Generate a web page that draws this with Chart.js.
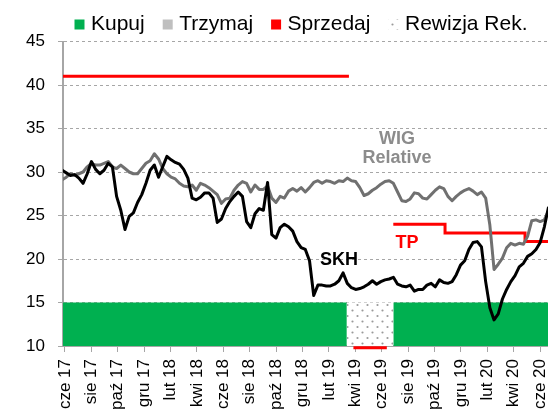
<!DOCTYPE html>
<html>
<head>
<meta charset="utf-8">
<script src="https://cdn.jsdelivr.net/npm/chart.js@4/dist/chart.umd.min.js"></script>
<style>
  html, body { margin: 0; padding: 0; background: #fff; }
  canvas { display: block; }
</style>
</head>
<body>
<canvas id="chart" width="548" height="410"></canvas>
<script>
// x is in months counted from June 2017, samples roughly every 10 days
const firstSample = -0.21;
const sampleStep = 0.3177;

const skh = [
    30.2, 29.9, 29.6, 29.7, 29.3, 28.7, 29.8, 31.2, 30.3, 29.8,
    30.2, 31.0, 30.6, 27.2, 25.6, 23.4, 24.9, 25.3, 26.5, 27.4,
    28.7, 30.2, 30.8, 29.4, 30.6, 31.8, 31.4, 31.1, 30.9, 30.3,
    29.3, 27.0, 26.8, 27.1, 27.6, 27.6, 27.0, 24.2, 24.6, 25.8,
    26.6, 27.2, 27.7, 27.2, 24.3, 23.6, 25.2, 25.8, 25.6, 28.8,
    22.8, 22.4, 23.6, 24.0, 23.7, 23.2, 22.0, 21.3, 21.1, 19.8,
    15.8, 17.0, 17.0, 16.9, 16.9, 17.1, 17.5, 18.4, 17.2, 16.7,
    16.5, 16.6, 16.8, 17.1, 17.5, 17.1, 17.4, 17.6, 17.7, 17.9,
    17.1, 16.9, 16.8, 17.0, 16.3, 16.5, 16.5, 17.0, 17.2, 16.8,
    17.6, 17.3, 17.2, 17.4, 18.2, 19.3, 19.8, 21.1, 21.9, 22.0,
    21.4, 17.4, 14.4, 13.0, 13.7, 15.4, 16.5, 17.4, 18.1, 19.1,
    19.5, 20.3, 20.6, 21.1, 21.9, 23.7, 26.0
];

const wigRelative = [
    29.1, 29.4, 29.8, 29.6, 29.8, 30.0, 30.6, 31.0, 30.8, 30.8,
    31.0, 31.2, 30.6, 30.4, 30.8, 30.4, 30.0, 29.8, 29.8, 30.4,
    31.0, 31.3, 32.1, 31.5, 30.4, 29.8, 29.4, 29.2, 28.7, 28.4,
    28.3, 28.5, 27.9, 28.7, 28.5, 28.2, 27.8, 27.4, 26.4, 26.9,
    27.0, 27.9, 28.5, 28.9, 28.7, 27.7, 28.5, 28.0, 28.0, 28.4,
    27.0, 26.5, 27.2, 27.0, 27.8, 28.1, 27.8, 28.2, 27.7, 28.2,
    28.8, 29.0, 28.7, 29.0, 28.9, 28.7, 29.0, 28.9, 29.3, 29.0,
    28.9, 28.2, 27.3, 27.5, 27.9, 28.2, 28.6, 28.9, 29.0, 28.7,
    27.7, 26.7, 26.6, 26.9, 27.6, 27.5, 27.0, 26.9, 27.4, 27.9,
    28.3, 28.1, 27.2, 26.7, 27.2, 27.6, 27.9, 28.1, 27.8, 27.4,
    27.7, 27.0, 23.9, 18.8, 19.4, 20.1, 21.3, 21.8, 21.6, 21.8,
    21.7, 22.6, 24.4, 24.5, 24.3, 24.5, 25.6
];

const tickLabels = ['cze 17', 'sie 17', 'paź 17', 'gru 17', 'lut 18', 'kwi 18', 'cze 18',
    'sie 18', 'paź 18', 'gru 18', 'lut 19', 'kwi 19', 'cze 19', 'sie 19', 'paź 19',
    'gru 19', 'lut 20', 'kwi 20', 'cze 20'];

// target price, null breaks the line between the two periods
const tpDates = [-0.14, 21.52, 21.6, 24.88, 28.8, 34.86, 36.6];
const tpValues = [41, 41, null, 24, 23, 22, 22];

// recommendation bands along the bottom
const ratingEdges = [-0.14, 21.36, 24.88, 36.6];
const ratingTypes = ['Kupuj', 'Rewizja Rek.', 'Kupuj'];
const ratingLevel = 15;
const sellDates = [21.86, 24.39];
const sellLevel = 9.8;

const notes = [
    { text: 'WIG', x: 25.17, y: 33.8, series: 'wig' },
    { text: 'Relative', x: 25.17, y: 31.55, series: 'wig' },
    { text: 'SKH', x: 20.77, y: 19.9, series: 'skh' },
    { text: 'TP', x: 25.92, y: 21.84, series: 'tp' }
];

const GREEN = '#00b050';
const GREY = '#bfbfbf';
const RED = '#ff0000';
const noteColors = { wig: '#8c8c8c', skh: '#000000', tp: RED };
const FONT = '"Liberation Sans", Arial, sans-serif';

const ctx = document.getElementById('chart').getContext('2d');

function dotPattern() {
    const c = document.createElement('canvas');
    c.width = 10;
    c.height = 11;
    const g = c.getContext('2d');
    g.fillStyle = '#fff';
    g.fillRect(0, 0, 10, 11);
    g.fillStyle = '#9a9a9a';
    g.beginPath();
    g.arc(2.5, 2.5, 1.1, 0, Math.PI * 2);
    g.moveTo(8.6, 8);
    g.arc(7.5, 8, 1.1, 0, Math.PI * 2);
    g.fill();
    return ctx.createPattern(c, 'repeat');
}
const dots = dotPattern();

const sampleX = skh.map((_, i) => firstSample + i * sampleStep);
const toPoints = (xs, ys) => xs.map((x, i) => ({ x: x, y: ys[i] }));

const bandSets = ratingTypes.map((t, i) => ({
    label: t,
    data: [{ x: ratingEdges[i], y: ratingLevel }, { x: ratingEdges[i + 1], y: ratingLevel }],
    fill: 'start',
    backgroundColor: t === 'Kupuj' ? GREEN : dots,
    borderWidth: 0,
    pointRadius: 0
}));

const legendItems = [
    { text: 'Kupuj', fillStyle: GREEN },
    { text: 'Trzymaj', fillStyle: GREY },
    { text: 'Sprzedaj', fillStyle: RED },
    { text: 'Rewizja Rek.', fillStyle: dots }
];

// keep the legend row short so the plot starts right under it,
// and nudge the row a bit to the right like the original
const legendHeight = {
    id: 'legendHeight',
    beforeInit(chart) {
        const fit = chart.legend.fit;
        chart.legend.fit = function () {
            fit.call(this);
            this.height = 39.5;
        };
    },
    afterLayout(chart) {
        const lg = chart.legend;
        lg.top -= 10;
        lg.left += 29;
        lg.right += 29;
    }
};

const notesPlugin = {
    id: 'notes',
    afterDatasetsDraw(chart) {
        const c = chart.ctx;
        const { x, y } = chart.scales;
        c.save();
        c.font = 'bold 18px ' + FONT;
        c.textAlign = 'center';
        c.textBaseline = 'middle';
        notes.forEach(n => {
            c.fillStyle = noteColors[n.series];
            c.fillText(n.text, x.getPixelForValue(n.x), y.getPixelForValue(n.y));
        });
        c.restore();
    }
};

new Chart(ctx, {
    type: 'line',
    data: {
        datasets: [
            {
                label: 'SKH',
                data: toPoints(sampleX, skh),
                borderColor: '#000',
                borderWidth: 3,
                pointRadius: 0,
                borderJoinStyle: 'round'
            },
            {
                label: 'WIG Relative',
                data: toPoints(sampleX, wigRelative),
                borderColor: '#707070',
                borderWidth: 3,
                pointRadius: 0,
                borderJoinStyle: 'round'
            },
            {
                label: 'TP',
                data: toPoints(tpDates, tpValues),
                borderColor: RED,
                borderWidth: 3,
                pointRadius: 0,
                stepped: true,
                spanGaps: false
            },
            {
                label: 'Sprzedaj',
                data: sellDates.map(d => ({ x: d, y: sellLevel })),
                borderColor: RED,
                borderWidth: 3,
                pointRadius: 0,
                clip: false
            },
            ...bandSets
        ]
    },
    options: {
        responsive: false,
        animation: false,
        layout: { padding: { top: 2, left: 0, right: 0, bottom: 0 } },
        plugins: {
            tooltip: { enabled: false },
            legend: {
                position: 'top',
                onClick: null,
                labels: {
                    usePointStyle: true,
                    boxWidth: 2,
                    boxHeight: 10,
                    padding: 22,
                    color: '#000',
                    font: { size: 21, family: FONT },
                    generateLabels: () => legendItems.map(it => ({
                        text: it.text,
                        fillStyle: it.fillStyle,
                        strokeStyle: it.fillStyle,
                        pointStyle: 'rect',
                        lineWidth: 0,
                        hidden: false
                    }))
                }
            }
        },
        scales: {
            x: {
                type: 'linear',
                min: -0.14,
                max: 36.6,
                afterBuildTicks: s => { s.ticks = tickLabels.map((_, i) => ({ value: i * 2 })); },
                afterFit: s => { s.height = 64; s.paddingLeft = 0; s.paddingRight = 0; },
                ticks: {
                    autoSkip: false,
                    minRotation: 90,
                    maxRotation: 90,
                    padding: 7,
                    color: '#000',
                    font: { size: 17, family: FONT },
                    callback: (v, i) => tickLabels[i]
                },
                grid: { drawOnChartArea: false, color: '#a6a6a6', tickLength: 6 },
                border: { color: '#a6a6a6', width: 2 }
            },
            y: {
                min: 10,
                max: 45,
                afterFit: s => { s.width = 63; },
                ticks: {
                    stepSize: 5,
                    padding: 13,
                    color: '#000',
                    font: { size: 17, family: FONT }
                },
                grid: { color: '#a6a6a6', lineWidth: 1, tickLength: 5 },
                border: { color: '#a6a6a6', width: 2, dash: [3, 3] }
            }
        }
    },
    plugins: [legendHeight, notesPlugin]
});
</script>
</body>
</html>
